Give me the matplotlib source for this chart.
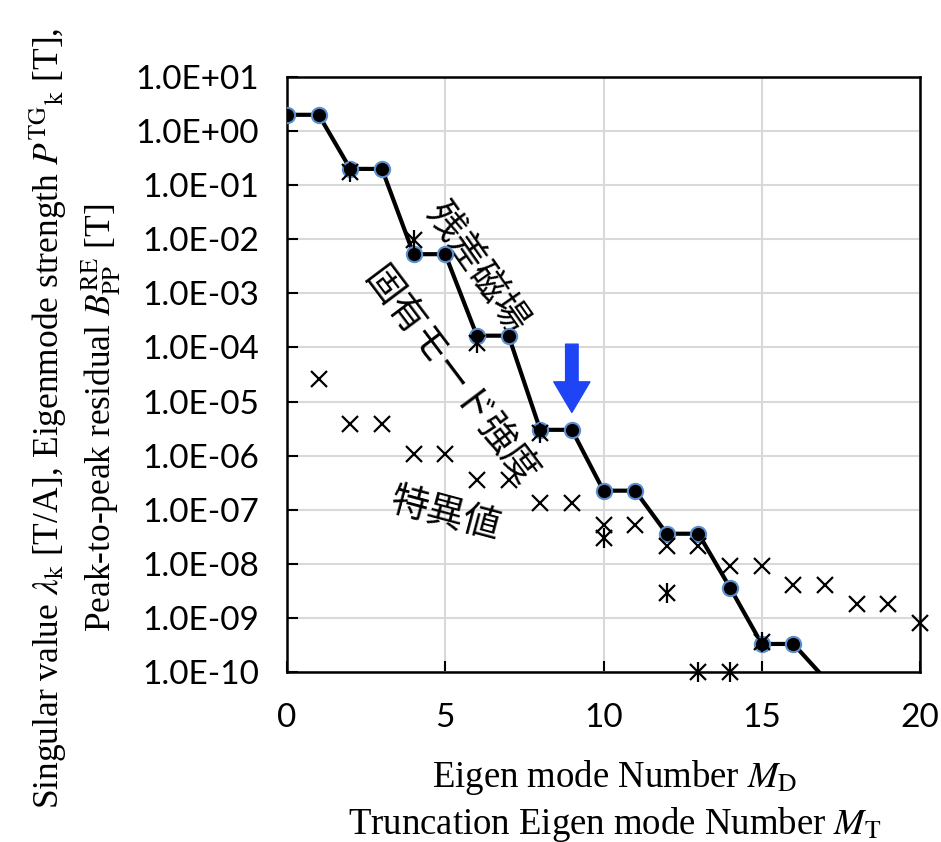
import numpy as np
from matplotlib import pyplot as plt

# residual B_PP (line with circles)
res_x = [0, 1, 2, 3, 4, 5, 6, 7, 8, 9, 10, 11, 12, 13, 14, 15, 16, 17]
res_y = [2.0, 2.0, 0.2, 0.2, 5.3e-3, 5.3e-3, 1.65e-4, 1.65e-4, 3.0e-6, 3.0e-6,
         2.25e-7, 2.25e-7, 3.6e-8, 3.6e-8, 3.6e-9, 3.3e-10, 3.3e-10, 7.5e-11]

# singular values (x markers)
sv_x = [1, 2, 3, 4, 5, 6, 7, 8, 9, 10, 11, 12, 13, 14, 15, 16, 17, 18, 19, 20]
sv_y = [2.6e-5, 3.9e-6, 3.9e-6, 1.05e-6, 1.05e-6, 3.5e-7, 3.5e-7, 1.33e-7, 1.33e-7,
        5.2e-8, 5.2e-8, 2.1e-8, 2.1e-8, 9.3e-9, 9.3e-9, 4.1e-9, 4.1e-9, 1.8e-9, 1.8e-9, 8.1e-10]

# eigenmode strength (asterisks)
em_x = [2, 4, 6, 8, 10, 12, 13, 14, 15]
em_y = [0.174, 9.5e-3, 1.22e-4, 2.6e-6, 3.0e-8, 2.9e-9, 1.0e-10, 1.0e-10, 3.6e-10]

plt.rcParams['mathtext.fontset'] = 'stix'

fig = plt.figure(figsize=(9.41, 8.42), dpi=100)
ax = fig.add_axes([287/941, 1-672/842, 633/941, 595/842])

ymin, ymax = 1e-10, 1e1
shown = [i for i, v in enumerate(res_y) if v >= ymin]
ax.plot(res_x, res_y, color="black", lw=3, marker="o", ms=11, mfc="black",
        mec="#5b8fd0", mew=1.5, markevery=shown, zorder=4)
ax.plot(sv_x, sv_y, ls="none", marker="x", ms=11, mew=1.6, color="black",
        clip_on=False, zorder=5)
ax.plot(em_x, em_y, ls="none", marker="x", ms=12, mew=1.6, color="black",
        clip_on=False, zorder=5)
ax.plot(em_x, em_y, ls="none", marker="|", ms=15, mew=1.6, color="black",
        clip_on=False, zorder=5)

ax.set_yscale("log")
ax.set_xlim(0, 20)
ax.set_ylim(ymin, ymax)
ax.set_xticks([0, 5, 10, 15, 20])
yt = [10.0**k for k in range(-10, 2)]
ax.set_yticks(yt)
ax.set_yticklabels(["1.0E%+03d" % k for k in range(-10, 2)])
ax.minorticks_off()
ax.grid(True, color="#d9d9d9", lw=1.5)
ax.set_axisbelow(True)
for s in ax.spines.values():
    s.set_linewidth(1.8)
    s.set_color("black")
ax.tick_params(direction="in", length=8, width=1.5, labelsize=24, pad=20)
ax.tick_params(axis="x", pad=22)
for lab in ax.get_xticklabels() + ax.get_yticklabels():
    lab.set_fontfamily("Lato")

# arrow at truncation point
ax.annotate("", xy=(9, 6.3e-6), xytext=(9, 1.15e-4),
            arrowprops=dict(arrowstyle="simple,head_length=1.1,head_width=1.3,tail_width=0.45",
                            color="#1f44f5", mutation_scale=20, shrinkA=0, shrinkB=0))

jp = dict(fontfamily="Noto Sans CJK JP", fontsize=27, ha="center", va="center",
          rotation_mode="anchor")
ax.text(6.0, 3.0e-3, "残差磁場", rotation=-55, **jp)
ax.text(5.15, 2.8e-5, "固有モード強度", rotation=-53, **jp)
ax.text(5.0, 8.1e-8, "特異値", rotation=-15, **jp)

serif = dict(fontfamily="Liberation Serif", ha="center", va="center")
fig.text(615/941, 1-801/842,
         "Eigen mode Number $\\mathit{M}_\\mathrm{D}$\nTruncation Eigen mode Number $\\mathit{M}_\\mathrm{T}$",
         fontsize=26.5, linespacing=1.25, **serif)
fig.text(76/941, 1-418/842,
         "Singular value $\\lambda_\\mathrm{k}$ [T/A], Eigenmode strength $\\mathit{P}^\\mathrm{TG}{}_\\mathrm{k}$ [T],\n"
         "Peak-to-peak residual $\\mathit{B}^\\mathrm{RE}_\\mathrm{PP}$ [T]",
         rotation=90, fontsize=25.5, linespacing=1.3, **serif)

fig.savefig("out.png", dpi=100)
